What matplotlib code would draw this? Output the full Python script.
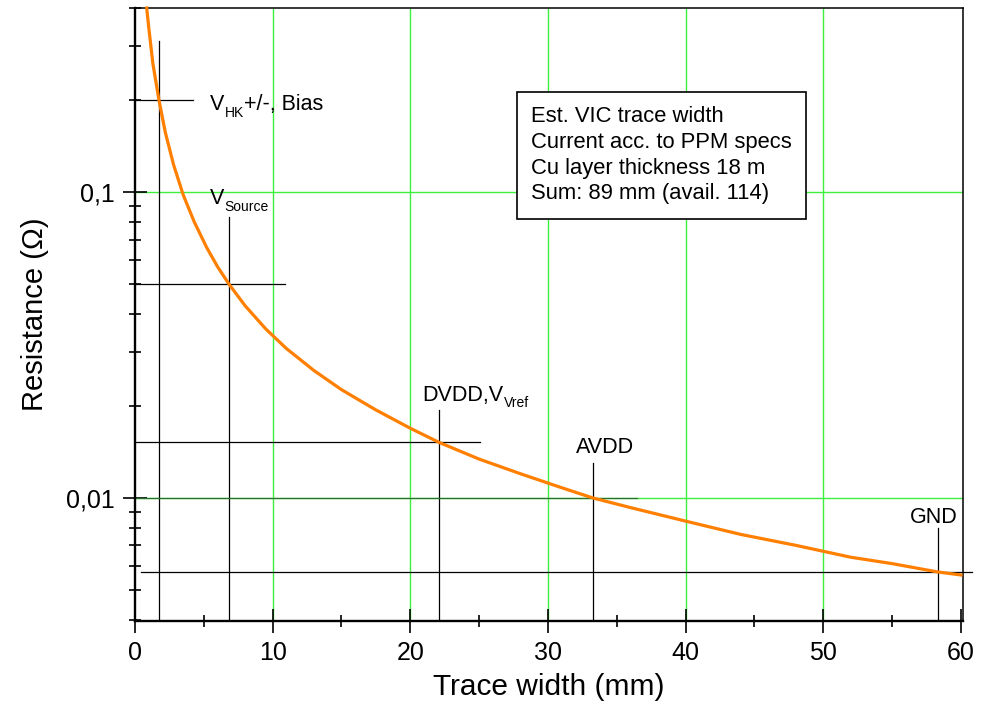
import numpy as np
import matplotlib
matplotlib.use("Agg")
import matplotlib.pyplot as plt
from matplotlib.ticker import MultipleLocator, LogLocator, FixedLocator, NullFormatter

plt.rcParams['font.family'] = ['Liberation Sans', 'DejaVu Sans']

# curve: trace width (mm) vs resistance (Ohm)
width_mm = [0.85, 1.0, 1.3, 1.74, 2.2, 2.8, 3.5, 4.3, 5.2, 6.0, 6.83, 8.0, 9.5,
            11.0, 13.0, 15.0, 17.5, 20.0, 22.08, 25.0, 28.0, 31.0, 33.26, 36.0,
            40.0, 44.0, 48.0, 52.0, 55.0, 58.3, 60.0]
resistance = [0.40, 0.345, 0.263, 0.200, 0.157, 0.123, 0.098, 0.080, 0.066, 0.057,
              0.050, 0.0425, 0.0357, 0.0308, 0.0261, 0.0226, 0.0194, 0.0169, 0.0152,
              0.0134, 0.0120, 0.0108, 0.0100, 0.0093, 0.0084, 0.0076, 0.0070,
              0.0064, 0.0061, 0.00573, 0.0056]

# signal nets: label pieces (text, subscript?), width, resistance,
# top of vertical marker, start/end of horizontal marker
nets = [[('V', 0), ('HK', 1), ('+/-, Bias', 0)],
        [('V', 0), ('Source', 1)],
        [('DVDD,V', 0), ('Vref', 1)],
        [('AVDD', 0)],
        [('GND', 0)]]
net_w = [1.74, 6.83, 22.08, 33.26, 58.3]
net_r = [0.2, 0.05, 0.0152, 0.01, 0.00573]
net_vtop = [0.311, 0.0828, 0.0194, 0.0130, 0.00798]
net_hend = [4.2, 10.9, 25.05, 36.5, 60.8]
net_hstart = [0, 0, 0, 0, 0.4]
label_x = [5.45, 5.45, 20.9, 32.0, 56.3]
label_y = [0.1853, 0.0914, 0.0208, 0.01403, 0.0083]

info = ['Est. VIC trace width', 'Current acc. to PPM specs',
        'Cu layer thickness 18 m', 'Sum: 89 mm (avail. 114)']

fig = plt.figure(figsize=(9.86, 7.15), dpi=100)
ax = fig.add_axes([135/986, 94/715, 828/986, 613/715])

ax.set_yscale('log')
ax.set_xlim(0, 60.15)
ax.set_ylim(0.00396, 0.4)

grid_c = '#3cf03c'
for gx in [10, 20, 30, 40, 50]:
    ax.axvline(gx, color=grid_c, lw=1, zorder=1)
for gy in [0.1, 0.01]:
    ax.axhline(gy, color=grid_c, lw=1, zorder=1)

main_fs, sub_fs = 15.5, 10
for i in range(len(nets)):
    ax.plot([net_w[i], net_w[i]], [0.00396, net_vtop[i]], color='k', lw=0.9, zorder=2)
    hc = '#2e6b2e' if i == 3 else 'k'
    ax.plot([net_hstart[i], net_hend[i]], [net_r[i], net_r[i]], color=hc, lw=0.9,
            zorder=2, clip_on=False)
    # label built piece by piece so the subscripts sit low like the original
    prev = None
    prev_sub = 0
    for txt, sub in nets[i]:
        if prev is None:
            prev = ax.text(label_x[i], label_y[i], txt, fontsize=main_fs,
                           va='baseline', ha='left')
        else:
            dy = -3.2 if sub else 3.4
            prev = ax.annotate(txt, xy=(1, 0), xycoords=prev, xytext=(0.3, dy),
                               textcoords='offset points', va='bottom', ha='left',
                               fontsize=sub_fs if sub else main_fs)
        prev_sub = sub

ax.plot(width_mm, resistance, color='#ff7f00', lw=2.3, zorder=3, clip_on=False)

ax.text((531-135)/828, (621-106)/613, '\n'.join(info), transform=ax.transAxes,
        fontsize=15.8, va='top', ha='left', linespacing=1.3,
        bbox=dict(boxstyle='square,pad=0.65', fc='white', ec='k', lw=1.2), zorder=5)

ax.xaxis.set_major_locator(MultipleLocator(10))
ax.xaxis.set_minor_locator(MultipleLocator(5))
ax.yaxis.set_major_locator(FixedLocator([0.01, 0.1]))
ax.yaxis.set_minor_locator(LogLocator(base=10, subs=np.arange(2, 10)))
ax.yaxis.set_minor_formatter(NullFormatter())
ax.set_yticklabels(['0,01', '0,1'])

ax.tick_params(which='major', direction='inout', length=17, width=1.2,
               labelsize=18, pad=6)
ax.tick_params(which='minor', direction='inout', length=9, width=1.2)

for s in ['left', 'bottom']:
    ax.spines[s].set_linewidth(1.7)
for s in ['top', 'right']:
    ax.spines[s].set_linewidth(1.1)

ax.set_xlabel('Trace width (mm)', fontsize=21.5, labelpad=6)
ax.set_ylabel('Resistance (Ω)', fontsize=21, labelpad=12)

fig.savefig('out.png', dpi=100)
